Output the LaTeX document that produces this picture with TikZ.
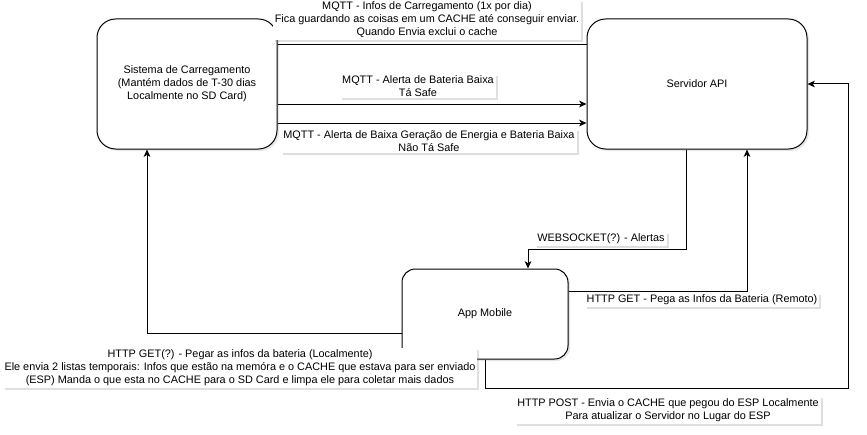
\documentclass[tikz,border=0pt]{standalone}
\usepackage{fontspec}
\setmainfont{Liberation Sans}
\usepackage{tikz}
\usetikzlibrary{arrows.meta, positioning, shadows, calc}

\begin{document}
\begin{tikzpicture}[
    x=0.75pt, y=-0.75pt,
    every node/.style={font=\fontsize{8.15pt}{9.75pt}\selectfont},
    block/.style={rectangle, draw, rounded corners=14pt, fill=white, align=center, line width=0.75pt,
        drop shadow={shadow xshift=1.5pt, shadow yshift=-1.5pt, opacity=0.2}},
    lbl/.style={fill=white, align=center, inner sep=1.5pt,
        drop shadow={shadow xshift=1.5pt, shadow yshift=-1.5pt, opacity=0.25}},
    arr/.style={-{Stealth[length=5.5pt, width=5pt, inset=1.5pt]}, line width=0.75pt},
    line/.style={line width=0.75pt},
]
\useasboundingbox (0,0) rectangle (867,435);

\node[block, minimum width=135pt, minimum height=97.5pt] (sistema) at (187,84)
    {Sistema de Carregamento\\(Mantém dados de T-30 dias\\Localmente no SD Card)};
\node[block, minimum width=165pt, minimum height=97.5pt] (servidor) at (697,84) {Servidor API};
\node[block, rounded corners=10pt, minimum width=124.5pt, minimum height=67.5pt] (app) at (485,314) {App Mobile};

% MQTT
\draw[line] ([yshift=29.25pt]sistema.east) -- ([yshift=29.25pt]servidor.west);
\draw[arr] ([yshift=-15pt]sistema.east) -- ([yshift=-15pt]servidor.west);
\draw[arr] ([yshift=-29.25pt]sistema.east) -- ([yshift=-29.25pt]servidor.west);

% servidor <-> app
\draw[arr] ([xshift=-8.25pt]servidor.south) -- ++(0,100) -| ([xshift=32.25pt]app.north);
\draw[arr] ([yshift=17.25pt]app.east) -| ([xshift=37.5pt]servidor.south);
\draw[arr] (app.south) -- ++(0,29) -| ([xshift=30.75pt]servidor.east) -- (servidor.east);

% app -> sistema
\draw[arr] ([yshift=-14.25pt]app.west) -| ([xshift=-30pt]sistema.south);

\node[lbl] (lblinfos) at (427,20) {MQTT - Infos de Carregamento (1x por dia)\\Fica guardando as coisas em um CACHE até conseguir enviar.\\Quando Envia exclui o cache};
\node[lbl] (lblbaixa) at (418,86) {MQTT - Alerta de Bateria Baixa\\Tá Safe};
\node[lbl] (lblgeracao) at (429,141) {MQTT - Alerta de Baixa Geração de Energia e Bateria Baixa\\Não Tá Safe};
\node[lbl] (lblws) at (601,239) {WEBSOCKET(?) - Alertas};
\node[lbl] (lblget) at (702,300) {HTTP GET - Pega as Infos da Bateria (Remoto)};
\node[lbl] (lblpost) at (668,410) {HTTP POST - Envia o CACHE que pegou do ESP Localmente\\Para atualizar o Servidor no Lugar do ESP};
\node[lbl] (lbllocal) at (240,368) {HTTP GET(?) - Pegar as infos da bateria (Localmente)\\Ele envia 2 listas temporais: Infos que estão na memóra e o CACHE que estava para ser enviado\\(ESP) Manda o que esta no CACHE para o SD Card e limpa ele para coletar mais dados};
\end{tikzpicture}
\end{document}
